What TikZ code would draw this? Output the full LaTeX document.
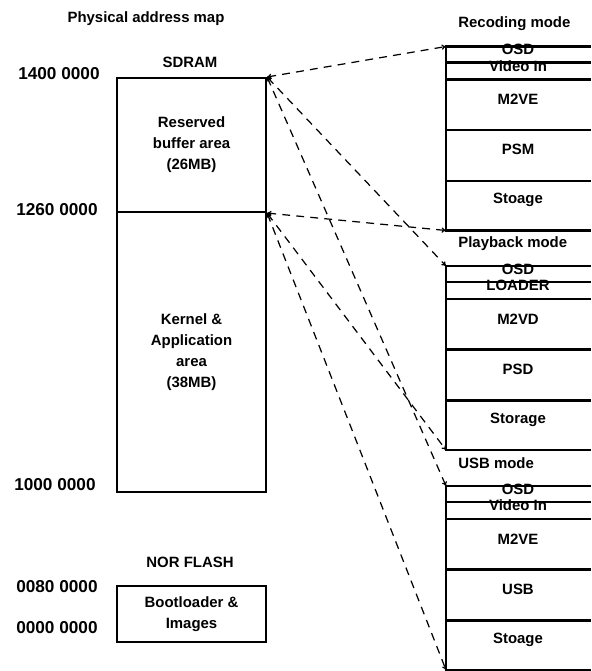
\documentclass[tikz,border=0pt]{standalone}
\usepackage{fontspec}
\setmainfont{Liberation Sans}
\usetikzlibrary{arrows.meta}

\tikzset{
  lbl/.style={font=\bfseries\fontsize{8.5}{12}\selectfont, align=center, inner sep=0pt},
  addr/.style={font=\bfseries\fontsize{9.8}{11}\selectfont, anchor=east, inner sep=0pt},
  region/.style={lbl, draw, line width=1.2pt, minimum width=2.98cm, anchor=north west},
  slotline/.style={line width=1.2pt},
  mapline/.style={dash pattern=on 4.5pt off 3.5pt, line width=0.7pt, {To[length=2.5pt,width=3pt]}-{To[length=2.5pt,width=3pt]}},
}

\begin{document}
\begin{tikzpicture}[x=0.02cm, y=-0.02cm]
\useasboundingbox (0,0) rectangle (591,671);

% === LEFT: SDRAM ===
\node[lbl] (title) at (146,19) {Physical address map};
\node[lbl] (sdram) at (190,62) {SDRAM};
\node[region, minimum height=2.68cm] (resv) at (116,77) {Reserved\\buffer area\\(26MB)};
\node[region, minimum height=5.6cm] (kern) at (116,211) {Kernel \&\\Application\\area\\(38MB)};

\node[addr] (a1400) at (100,74) {1400 0000};
\node[addr] (a1260) at (98,210) {1260 0000};
\node[addr] (a1000) at (96,485) {1000 0000};

% === LEFT: NOR FLASH ===
\node[lbl] (nor) at (190,562) {NOR FLASH};
\node[region, minimum height=1.12cm] (boot) at (116,585) {Bootloader \&\\Images};

\node[addr] (a0080) at (98,587) {0080 0000};
\node[addr] (a0000) at (98,628) {0000 0000};

% === RIGHT: MODE STACKS ===
\foreach \id/\tp/\ttl/\sa/\sb/\sc/\sd/\se in {
  rec/46.5/Recoding mode/OSD/Video In/M2VE/PSM/Stoage,
  play/266/Playback mode/OSD/LOADER/M2VD/PSD/Storage,
  usb/486/USB mode/OSD/Video In/M2VE/USB/Stoage}{
  \node[lbl, anchor=west] (\id title) at (458,\tp-22.5) {\ttl};
  \draw[slotline] (591,\tp) -- (446,\tp) -- (446,\tp+184) -- (591,\tp+184);
  \foreach \dy in {16,33,83.5,134.5} \draw[slotline] (446,\tp+\dy) -- (591,\tp+\dy);
  \coordinate (\id top) at (446,\tp);
  \coordinate (\id bot) at (446,\tp+184);
  \node[lbl] (\id a) at (518,\tp+3) {\sa};
  \node[lbl] (\id b) at (518,\tp+19.5) {\sb};
  \node[lbl] (\id c) at (518,\tp+53) {\sc};
  \node[lbl] (\id d) at (518,\tp+103) {\sd};
  \node[lbl] (\id e) at (518,\tp+153.5) {\se};
}

% === MAPPING LINES ===
\foreach \id in {rec,play,usb} {
  \draw[mapline] (resv.north east) -- (\id top);
  \draw[mapline] (resv.south east) -- (\id bot);
}

\end{tikzpicture}
\end{document}
